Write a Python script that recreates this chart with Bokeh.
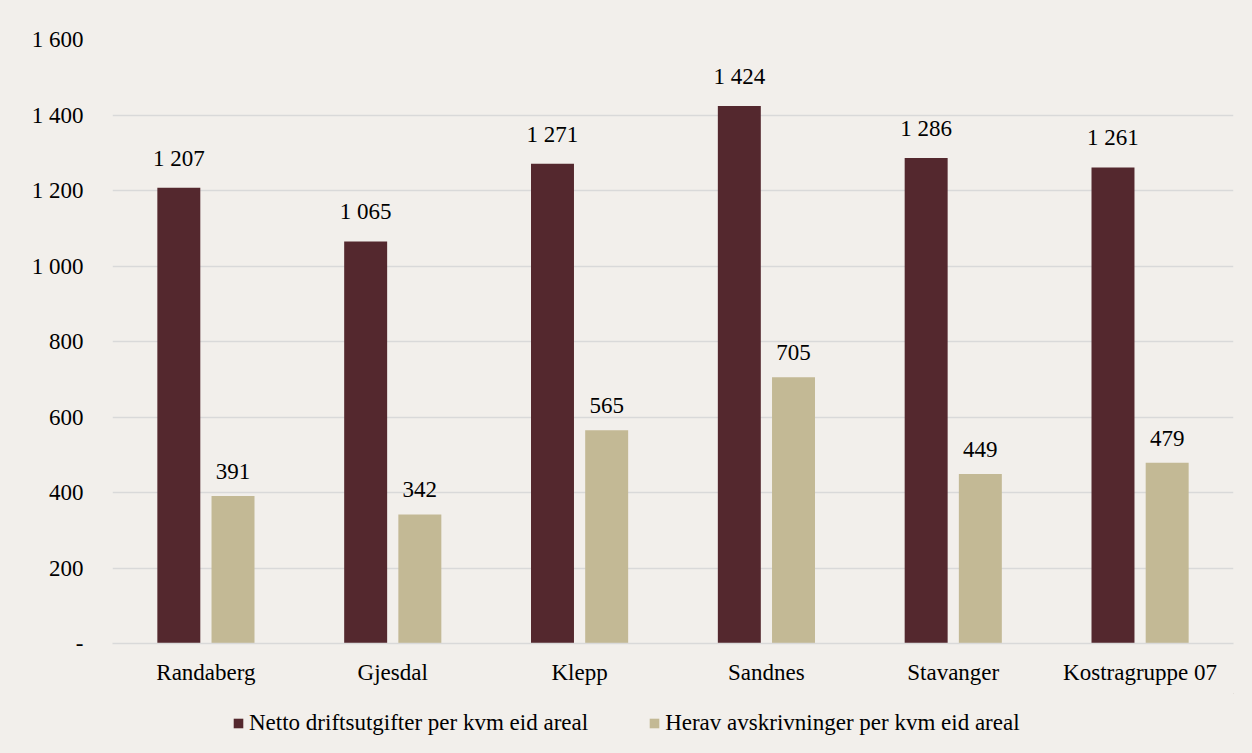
from bokeh.plotting import figure
from bokeh.layouts import column
from bokeh.models import ColumnDataSource, FactorRange, FixedTicker, Legend, LegendItem, LabelSet
from bokeh.transform import dodge
from bokeh.embed import file_html
from bokeh.resources import INLINE

categories = ["Randaberg", "Gjesdal", "Klepp", "Sandnes", "Stavanger", "Kostragruppe 07"]
netto = [1207, 1065, 1271, 1424, 1286, 1261]
avskr = [391, 342, 565, 705, 449, 479]
series_names = ["Netto driftsutgifter per kvm eid areal", "Herav avskrivninger per kvm eid areal"]
y_ticks = [0, 200, 400, 600, 800, 1000, 1200, 1400, 1600]

def fmt(v):
    return "-" if v == 0 else f"{v:,}".replace(",", " ")

src = ColumnDataSource(dict(
    cat=categories, netto=netto, avskr=avskr,
    netto_lbl=[fmt(v) for v in netto], avskr_lbl=[fmt(v) for v in avskr],
))

BG = "#F2EFEB"
DARK = "#54282E"
LIGHT = "#C3B995"
FONT = "Liberation Serif"
FS = "23px"

p = figure(x_range=FactorRange(*categories), y_range=(0, 1600),
           frame_width=1121, frame_height=604, output_backend="svg", toolbar_location=None,
           background_fill_color=BG, border_fill_color=BG,
           min_border_left=112, min_border_right=19, min_border_top=39, min_border_bottom=50)
p.outline_line_color = None

r1 = p.vbar(x=dodge("cat", -0.145, range=p.x_range), top="netto", width=0.23, source=src,
            fill_color=DARK, line_color=None)
r2 = p.vbar(x=dodge("cat", 0.145, range=p.x_range), top="avskr", width=0.23, source=src,
            fill_color=LIGHT, line_color=None)

for col, lbl, off in (("netto", "netto_lbl", -0.145), ("avskr", "avskr_lbl", 0.145)):
    p.add_layout(LabelSet(x=dodge("cat", off, range=p.x_range), y=col, text=lbl, source=src,
                          text_align="center", text_baseline="bottom", y_offset=17,
                          text_font=FONT, text_font_size=FS, text_color="#000000"))

p.xgrid.grid_line_color = None
p.ygrid.grid_line_color = "#D9D9D9"
p.ygrid.grid_line_width = 1.5
p.yaxis.ticker = FixedTicker(ticks=y_ticks)
p.yaxis.major_label_overrides = {t: fmt(t) for t in y_ticks}
p.yaxis.axis_line_color = None
p.yaxis.major_tick_line_color = None
p.yaxis.minor_tick_line_color = None
p.yaxis.major_label_standoff = 23
p.xaxis.axis_line_color = "#D9D9D9"
p.xaxis.axis_line_width = 1.5
p.xaxis.major_tick_line_color = None
p.xaxis.major_label_standoff = 10
for ax in (p.xaxis, p.yaxis):
    ax.major_label_text_font = FONT
    ax.major_label_text_font_size = FS
    ax.major_label_text_color = "#000000"

# legend strip below the chart (dummy renderers sit outside the strip's visible range)
lf = figure(x_range=(0, 1), y_range=(0, 1), frame_width=1121, frame_height=60,
            output_backend="svg", toolbar_location=None,
            background_fill_color=BG, border_fill_color=BG,
            min_border_left=112, min_border_right=19, min_border_top=0, min_border_bottom=0)
lf.axis.visible = False
lf.grid.visible = False
lf.outline_line_color = None
lr1 = lf.vbar(x=[5], top=[5], bottom=[4], width=0.1, fill_color=DARK, line_color=None)
lr2 = lf.vbar(x=[5], top=[5], bottom=[4], width=0.1, fill_color=LIGHT, line_color=None)
legend = Legend(items=[LegendItem(label=series_names[0], renderers=[lr1]),
                       LegendItem(label=series_names[1], renderers=[lr2])],
                orientation="horizontal", location=(120, 17),
                background_fill_alpha=0, border_line_color=None,
                label_text_font=FONT, label_text_font_size=FS, label_text_color="#000000",
                glyph_width=12, glyph_height=12, spacing=60, label_standoff=5,
                padding=0, margin=0)
lf.add_layout(legend, "center")

layout = column(p, lf, spacing=0, background=BG)
open("out.html", "w").write(file_html(layout, INLINE))
